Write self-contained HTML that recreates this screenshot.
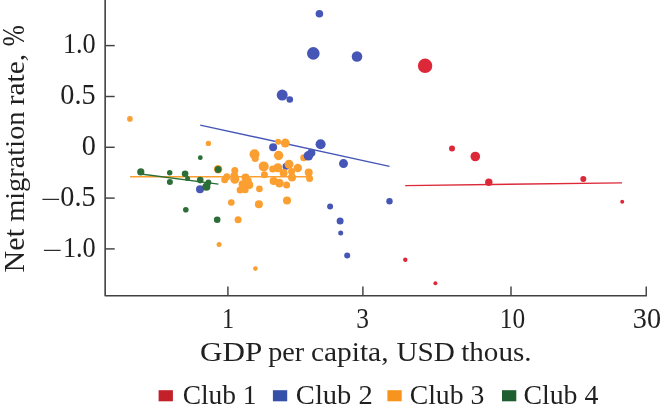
<!DOCTYPE html>
<html><head><meta charset="utf-8"><title>Net migration rate vs GDP per capita</title>
<style>
html,body{margin:0;padding:0;background:#fff;}
svg{display:block;}
text{font-family:"Liberation Serif",serif;font-size:27.8px;fill:#231F20;}
</style></head>
<body>
<svg width="660" height="413" viewBox="0 0 660 413">
<rect width="660" height="413" fill="#fff"/>
<!-- regression lines -->
<line x1="130.1" y1="176.7" x2="310" y2="176.7" stroke="#FB9F30" stroke-width="1.35"/>
<line x1="200.2" y1="125.1" x2="389.5" y2="166.4" stroke="#4556B6" stroke-width="1.4"/>
<line x1="140.8" y1="174.0" x2="218.4" y2="184.2" stroke="#2B6E36" stroke-width="1.35"/>
<line x1="405.2" y1="185.6" x2="622" y2="182.8" stroke="#DC2838" stroke-width="1.35"/>
<circle cx="286.1" cy="166.2" r="3.5" fill="#4556B6"/>
<circle cx="129.9" cy="118.9" r="2.8" fill="#FB9F30"/>
<circle cx="208.4" cy="143.4" r="2.7" fill="#FB9F30"/>
<circle cx="278.1" cy="141.8" r="3" fill="#FB9F30"/>
<circle cx="285.3" cy="143.1" r="4.5" fill="#FB9F30"/>
<circle cx="254.5" cy="154.3" r="5" fill="#FB9F30"/>
<circle cx="255.2" cy="158.5" r="3.5" fill="#FB9F30"/>
<circle cx="278.6" cy="155.5" r="4.7" fill="#FB9F30"/>
<circle cx="303.7" cy="157.7" r="3.5" fill="#FB9F30"/>
<circle cx="263.7" cy="166.4" r="5" fill="#FB9F30"/>
<circle cx="289.0" cy="164.3" r="4.5" fill="#FB9F30"/>
<circle cx="297.8" cy="168.0" r="4.2" fill="#FB9F30"/>
<circle cx="277.9" cy="167.8" r="4.5" fill="#FB9F30"/>
<circle cx="272.7" cy="168.9" r="3.5" fill="#FB9F30"/>
<circle cx="234.8" cy="170.5" r="3.5" fill="#FB9F30"/>
<circle cx="218.1" cy="169.3" r="4.2" fill="#FB9F30"/>
<circle cx="291.6" cy="171.4" r="3.5" fill="#FB9F30"/>
<circle cx="283.6" cy="173" r="4" fill="#FB9F30"/>
<circle cx="264.4" cy="174.7" r="3.5" fill="#FB9F30"/>
<circle cx="308.7" cy="172.5" r="4" fill="#FB9F30"/>
<circle cx="234.3" cy="175.9" r="4" fill="#FB9F30"/>
<circle cx="234.8" cy="179.2" r="4.5" fill="#FB9F30"/>
<circle cx="226.8" cy="176.7" r="3.5" fill="#FB9F30"/>
<circle cx="224.7" cy="179.7" r="3.5" fill="#FB9F30"/>
<circle cx="245.5" cy="177.6" r="4" fill="#FB9F30"/>
<circle cx="247.7" cy="180.9" r="4" fill="#FB9F30"/>
<circle cx="242.6" cy="184.2" r="4" fill="#FB9F30"/>
<circle cx="249.3" cy="185.1" r="4" fill="#FB9F30"/>
<circle cx="240.1" cy="190.1" r="3.5" fill="#FB9F30"/>
<circle cx="245.2" cy="189.8" r="3.5" fill="#FB9F30"/>
<circle cx="259.4" cy="188.9" r="3.3" fill="#FB9F30"/>
<circle cx="273.6" cy="180.9" r="4" fill="#FB9F30"/>
<circle cx="279.4" cy="183.1" r="4.3" fill="#FB9F30"/>
<circle cx="286.6" cy="185.1" r="3.5" fill="#FB9F30"/>
<circle cx="292" cy="177.6" r="4" fill="#FB9F30"/>
<circle cx="309.6" cy="178.6" r="3.5" fill="#FB9F30"/>
<circle cx="287" cy="200.5" r="4" fill="#FB9F30"/>
<circle cx="258.9" cy="204.3" r="4" fill="#FB9F30"/>
<circle cx="231.3" cy="202.5" r="3.3" fill="#FB9F30"/>
<circle cx="238.1" cy="219.7" r="3.5" fill="#FB9F30"/>
<circle cx="219.1" cy="244.4" r="2.5" fill="#FB9F30"/>
<circle cx="255.4" cy="268.6" r="2.3" fill="#FB9F30"/>
<circle cx="319.4" cy="13.7" r="3.8" fill="#4556B6"/>
<circle cx="313.3" cy="53.4" r="6.3" fill="#4556B6"/>
<circle cx="357" cy="56.5" r="5.3" fill="#4556B6"/>
<circle cx="282.2" cy="95.1" r="5.5" fill="#4556B6"/>
<circle cx="289.8" cy="99.5" r="3.3" fill="#4556B6"/>
<circle cx="273.1" cy="147.3" r="4" fill="#4556B6"/>
<circle cx="320.6" cy="144.3" r="5" fill="#4556B6"/>
<circle cx="311.4" cy="152.7" r="4" fill="#4556B6"/>
<circle cx="308.4" cy="155.8" r="4.8" fill="#4556B6"/>
<circle cx="343.5" cy="163.6" r="4.5" fill="#4556B6"/>
<circle cx="200" cy="189.3" r="4" fill="#4556B6"/>
<circle cx="330.1" cy="206.5" r="3" fill="#4556B6"/>
<circle cx="340.1" cy="221" r="3.5" fill="#4556B6"/>
<circle cx="389.5" cy="201.3" r="3.2" fill="#4556B6"/>
<circle cx="340.7" cy="233" r="2.5" fill="#4556B6"/>
<circle cx="347.2" cy="255.6" r="3" fill="#4556B6"/>
<circle cx="200.3" cy="157.7" r="2.4" fill="#2B6E36"/>
<circle cx="140.8" cy="171.9" r="3.6" fill="#2B6E36"/>
<circle cx="169.7" cy="172.7" r="2.7" fill="#2B6E36"/>
<circle cx="169.9" cy="181.9" r="3" fill="#2B6E36"/>
<circle cx="185.1" cy="173.7" r="3.3" fill="#2B6E36"/>
<circle cx="187.6" cy="178.4" r="2.5" fill="#2B6E36"/>
<circle cx="200.2" cy="180.1" r="3.3" fill="#2B6E36"/>
<circle cx="206.4" cy="186.8" r="4" fill="#2B6E36"/>
<circle cx="208.4" cy="182.6" r="3" fill="#2B6E36"/>
<circle cx="185.8" cy="209.7" r="2.8" fill="#2B6E36"/>
<circle cx="218.1" cy="169.5" r="3.4" fill="#2B6E36"/>
<circle cx="217.2" cy="219.7" r="3.3" fill="#2B6E36"/>
<circle cx="425.1" cy="65.8" r="7.2" fill="#DC2838"/>
<circle cx="452" cy="148.4" r="3" fill="#DC2838"/>
<circle cx="475.3" cy="156.5" r="4.8" fill="#DC2838"/>
<circle cx="488.8" cy="182.2" r="3.7" fill="#DC2838"/>
<circle cx="583.3" cy="178.9" r="3" fill="#DC2838"/>
<circle cx="622.2" cy="201.7" r="2" fill="#DC2838"/>
<circle cx="405.3" cy="259.8" r="2.2" fill="#DC2838"/>
<circle cx="435.4" cy="283.2" r="2" fill="#DC2838"/>
<!-- axes -->
<polyline points="105.15,0 105.15,295.8 646.9,295.8" fill="none" stroke="#434142" stroke-width="1.6" stroke-linejoin="round"/>
<line x1="105.15" y1="45.6" x2="114.7" y2="45.6" stroke="#434142" stroke-width="1.45"/>
<line x1="105.15" y1="96.5" x2="114.7" y2="96.5" stroke="#434142" stroke-width="1.45"/>
<line x1="105.15" y1="147.3" x2="114.7" y2="147.3" stroke="#434142" stroke-width="1.45"/>
<line x1="105.15" y1="198.1" x2="114.7" y2="198.1" stroke="#434142" stroke-width="1.45"/>
<line x1="105.15" y1="248.9" x2="114.7" y2="248.9" stroke="#434142" stroke-width="1.45"/>
<line x1="227.9" y1="286.4" x2="227.9" y2="295.8" stroke="#434142" stroke-width="1.45"/>
<line x1="362.9" y1="286.4" x2="362.9" y2="295.8" stroke="#434142" stroke-width="1.45"/>
<line x1="511" y1="286.4" x2="511" y2="295.8" stroke="#434142" stroke-width="1.45"/>
<line x1="646.25" y1="286.4" x2="646.25" y2="295.8" stroke="#434142" stroke-width="1.45"/>

<g style="filter:grayscale(1)">
<text transform="translate(62.90,52.8) scale(0.9464,1.04)">1.0</text>
<text transform="translate(60.34,103.8) scale(1.0155,1.04)">0.5</text>
<text transform="translate(81.84,154.6) scale(1.0157,1.04)">0</text>
<text transform="translate(40.70,206.7) scale(1.2919,0.85)">−</text>
<text transform="translate(60.34,205.6) scale(1.0155,1.04)">0.5</text>
<text transform="translate(42.30,257.5) scale(1.2919,0.85)">−</text>
<text transform="translate(62.90,256.5) scale(0.9464,1.04)">1.0</text>
<text transform="translate(222.09,327.7) scale(0.8674,1.04)">1</text>
<text transform="translate(356.29,327.7) scale(0.9156,1.04)">3</text>
<text transform="translate(499.78,327.7) scale(0.9126,1.04)">10</text>
<text transform="translate(632.86,327.7) scale(1.0143,1.04)">30</text>
<text transform="translate(200.05,361.4) scale(1.1208,1)">GDP</text>
<text transform="translate(268.18,361.4) scale(1.0146,1)">per</text>
<text transform="translate(310.90,361.4) scale(1.0589,1)">capita,</text>
<text transform="translate(396.41,361.4) scale(1.0532,1)">USD</text>
<text transform="translate(461.21,361.4) scale(1.0473,1)">thous.</text>
<text transform="translate(23.5,272.43) rotate(-90) scale(1.0868,1.04)">Net</text>
<text transform="translate(23.5,221.87) rotate(-90) scale(1.0215,1)">migration</text>
<text transform="translate(23.5,105.19) rotate(-90) scale(1.0543,1)">rate,</text>
<text transform="translate(24.3,46.29) rotate(-90) scale(0.9122,1.14)">%</text>

<text transform="translate(182.65,403.6) scale(0.9876,1)">Club 1</text>
<text transform="translate(295.86,403.6) scale(1.0273,1)">Club 2</text>
<text transform="translate(409.69,403.6) scale(0.9973,1)">Club 3</text>
<text transform="translate(523.39,403.6) scale(1.0015,1)">Club 4</text>
</g>
<rect x="158.6" y="390.2" width="14.3" height="11.1" fill="#C4202A"/>
<rect x="272.9" y="390.2" width="14.3" height="11.1" fill="#3550A8"/>
<rect x="387.4" y="390.2" width="14.3" height="11.1" fill="#F7941D"/>
<rect x="502" y="390.2" width="14.3" height="11.1" fill="#1E5E30"/>

</svg>
</body></html>
